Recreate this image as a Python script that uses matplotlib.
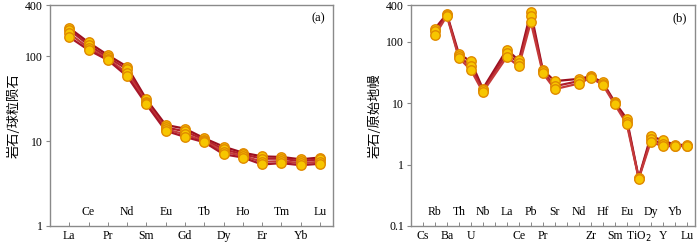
import numpy as np
import matplotlib.pyplot as plt
from matplotlib.ticker import FixedLocator, FixedFormatter, NullLocator
import matplotlib.transforms as mtransforms

# Chondrite-normalised REE (panel a)
ree = ['La', 'Ce', 'Pr', 'Nd', 'Sm', 'Eu', 'Gd', 'Tb', 'Dy', 'Ho', 'Er', 'Tm', 'Yb', 'Lu']
ree_samples = [
    [215, 145, 103, 75, 31, 15.5, 14.0, 10.8, 8.6, 7.3, 6.6, 6.5, 6.1, 6.4],
    [205, 135, 97, 70, 29, 14.5, 13.0, 10.4, 8.0, 7.0, 6.2, 6.2, 5.8, 6.1],
    [185, 125, 93, 63, 28, 13.8, 12.0, 10.0, 7.5, 6.7, 5.7, 5.8, 5.5, 5.7],
    [168, 118, 90, 58, 27, 13.2, 11.2, 9.7, 7.0, 6.4, 5.3, 5.5, 5.2, 5.4],
]

# Primitive-mantle-normalised trace elements (panel b), None = not analysed
trace = ['Cs', 'Rb', 'Ba', 'Th', 'U', 'Nb', 'Ta', 'La', 'Ce', 'Pb', 'Pr', 'Sr',
         'P', 'Nd', 'Zr', 'Hf', 'Sm', 'Eu', 'TiO$_2$', 'Dy', 'Y', 'Yb', 'Lu']
# Ta and P are left unlabelled in the original figure
trace_labels = ['' if n in ('Ta', 'P') else n for n in trace]
trace_samples = [
    [None, 165, 285, 64, 48, 17.3, None, 75, 50, 310, 35, 23, None, 25, 27.5, 22, 10.5, 5.6, 0.61, 2.9, 2.5, 2.1, 2.1],
    [None, 148, 275, 58, 41, 16.2, None, 65, 45, 260, 33, 19, None, 23, 26.5, 21, 10.0, 5.0, 0.60, 2.6, 2.2, 2.05, 2.05],
    [None, 128, 265, 55, 35, 15.3, None, 57, 40, 210, 31, 17, None, 21, 26, 20, 9.6, 4.6, 0.59, 2.35, 2.0, 2.0, 2.0],
]

line_colors = ['#9b0f1f', '#b2202c', '#c43a3a', '#a8172a']

plt.rcParams['font.family'] = ['Liberation Serif', 'DejaVu Serif']
cjk = ['Noto Sans CJK SC', 'DejaVu Sans']

fig = plt.figure(figsize=(7, 2.5), dpi=100)
ax1 = fig.add_axes([0.0714, 0.096, 0.405, 0.884])
ax2 = fig.add_axes([0.587, 0.096, 0.406, 0.884])


def style_axes(ax, names, yticks, ylow):
    ax.set_yscale('log')
    ax.set_ylim(ylow, 400)
    ax.set_xlim(-1, len(names) - 0.3)
    ax.yaxis.set_major_locator(FixedLocator(yticks))
    ax.yaxis.set_major_formatter(FixedFormatter([('%g' % v) for v in yticks]))
    ax.yaxis.set_minor_locator(NullLocator())
    ax.tick_params(axis='y', direction='out', length=3, width=0.8, color='#888888',
                   labelsize=8.5, pad=2)
    x = np.arange(len(names))
    ax.set_xticks(x)
    ax.set_xticklabels([n if i % 2 == 0 else '' for i, n in enumerate(names)])
    ax.tick_params(axis='x', direction='in', length=3, width=0.7, color='#888888',
                   labelsize=8.5, pad=3)
    trans = mtransforms.blended_transform_factory(ax.transData, ax.transAxes)
    for i, n in enumerate(names):
        if i % 2 == 1 and n:
            ax.text(i, 0.035, n, transform=trans, ha='center', va='bottom', fontsize=8.5)
    for s in ax.spines.values():
        s.set_color('#8a8a8a')
        s.set_linewidth(1.0)


def draw(ax, samples):
    for k, vals in enumerate(samples):
        xs = [i for i, v in enumerate(vals) if v is not None]
        ys = [v for v in vals if v is not None]
        ax.plot(xs, ys, '-', color=line_colors[k % len(line_colors)], lw=1.6, zorder=2)
    for k, vals in enumerate(samples):
        xs = [i for i, v in enumerate(vals) if v is not None]
        ys = [v for v in vals if v is not None]
        ax.plot(xs, ys, 'o', ms=6.8, mfc='#f7c600', mec='#e08a00', mew=1.0, zorder=3)


draw(ax1, ree_samples)
style_axes(ax1, ree, [1, 10, 100, 400], 1)
ax1.set_ylabel('岩石/球粒陨石', family=cjk, fontsize=9.5, labelpad=3)
ax1.text(0.97, 0.94, '(a)', transform=ax1.transAxes, ha='right', va='center', fontsize=9)

draw(ax2, trace_samples)
style_axes(ax2, trace_labels, [0.1, 1, 10, 100, 400], 0.1)
ax2.set_ylabel('岩石/原始地幔', family=cjk, fontsize=9.5, labelpad=3)
ax2.text(0.97, 0.94, '(b)', transform=ax2.transAxes, ha='right', va='center', fontsize=9)

plt.savefig('out.png', dpi=100)
plt.close()
